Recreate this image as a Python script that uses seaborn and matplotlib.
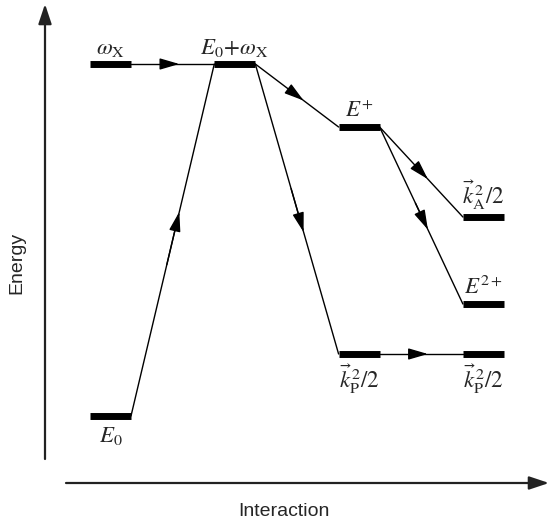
import numpy as np
import pandas as pd
import seaborn as sns
import matplotlib
matplotlib.use('Agg')
import matplotlib.pyplot as plt

# energy levels (arbitrary units), column = stage of the interaction
levels = ['wX', 'E0wX', 'Ep', 'kA', 'E2p', 'kP1', 'kP2', 'E0']
labels = [r'$\omega_{\rm X}$', r'$E_0\!+\!\omega_{\rm X}$', r'$E^{+}$',
          r'$\vec{k}_{\rm A}^{\,2}/2$', r'$E^{2+}$',
          r'$\vec{k}_{\rm P}^{\,2}/2$', r'$\vec{k}_{\rm P}^{\,2}/2$', r'$E_0$']
column = [0, 1, 2, 3, 3, 2, 3, 0]
energy = [461, 461, 398, 308, 221, 171, 171, 109]
label_side = ['top', 'top', 'top', 'top', 'top', 'bottom', 'bottom', 'bottom']
# transitions (from level, to level)
trans_from = ['wX', 'E0', 'E0wX', 'E0wX', 'Ep', 'Ep', 'kP1']
trans_to = ['E0wX', 'E0wX', 'Ep', 'kP1', 'kA', 'E2p', 'kP2']

sns.set_style('white')
plt.rcParams['mathtext.fontset'] = 'stix'
plt.rcParams['font.family'] = ['Liberation Sans', 'DejaVu Sans']

fig = plt.figure(figsize=(5.49, 5.25), dpi=100)
ax = fig.add_axes([0, 0, 1, 1])
ax.set_xlim(0, 549)
ax.set_ylim(0, 525)
ax.axis('off')

x0, dx, w = 90, 124.3, 41
rows = []
for name, c, e in zip(levels, column, energy):
    rows.append({'level': name, 'x': x0 + dx * c, 'E': e})
    rows.append({'level': name, 'x': x0 + dx * c + w, 'E': e})
df = pd.DataFrame(rows)
sns.lineplot(data=df, x='x', y='E', units='level', estimator=None, sort=False,
             color='black', lw=5, legend=False, ax=ax, solid_capstyle='butt')

pos = {n: (x0 + dx * c, e) for n, c, e in zip(levels, column, energy)}
for a, b in zip(trans_from, trans_to):
    xa, ya = pos[a][0] + w, pos[a][1]
    xb, yb = pos[b]
    ax.plot([xa, xb], [ya, yb], color='black', lw=1.0)
    t = 0.58
    xt, yt = xa + t * (xb - xa), ya + t * (yb - ya)
    xs, ys = xa + (t - 0.15) * (xb - xa), ya + (t - 0.15) * (yb - ya)
    ax.annotate('', xy=(xt, yt), xytext=(xs, ys),
                arrowprops=dict(arrowstyle='-|>,head_length=1.2,head_width=0.35',
                                color='black', lw=1.0, shrinkA=0, shrinkB=0))

for n, lab, side in zip(levels, labels, label_side):
    x, e = pos[n]
    if side == 'top':
        ax.text(x + w / 2, e + 5, lab, ha='center', va='bottom', fontsize=16.5)
    else:
        ax.text(x + w / 2, e - 8, lab, ha='center', va='top', fontsize=16.5)

# axes drawn as arrows
ax.annotate('', xy=(45, 521), xytext=(45, 66),
            arrowprops=dict(arrowstyle='-|>,head_length=1.2,head_width=0.4',
                            color='#222222', lw=1.6, shrinkA=0, shrinkB=0))
ax.annotate('', xy=(549, 42), xytext=(66, 42),
            arrowprops=dict(arrowstyle='-|>,head_length=1.2,head_width=0.4',
                            color='#222222', lw=1.6, shrinkA=0, shrinkB=0))
ax.text(17, 262, 'Energy', rotation=90, ha='center', va='center', fontsize=14)
ax.text(284, 14, 'Interaction', ha='center', va='center', fontsize=14)

fig.savefig('out.png', dpi=100)
